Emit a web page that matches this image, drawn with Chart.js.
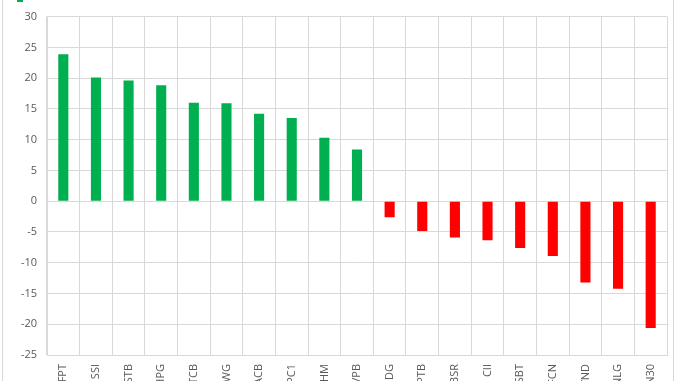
<!DOCTYPE html>
<html>
<head>
<meta charset="utf-8">
<script src="https://cdn.jsdelivr.net/npm/chart.js@4"></script>
<style>
  html, body { margin: 0; padding: 0; background: #fff; overflow: hidden; }
  #wrap { width: 678px; height: 398px; position: relative; }
</style>
</head>
<body>
<div id="wrap"><canvas id="chart"></canvas></div>
<script>
const tickers = ['FPT', 'SSI', 'STB', 'HPG', 'TCB', 'MWG', 'ACB', 'PC1', 'VHM', 'VPB',
                 'HDG', 'PTB', 'BSR', 'CII', 'SBT', 'FCN', 'VND', 'NLG', 'VN30'];
const changes = [23.9, 20.1, 19.6, 18.85, 16.0, 15.9, 14.2, 13.5, 10.3, 8.4,
                 -2.6, -4.85, -5.9, -6.35, -7.6, -8.9, -13.2, -14.25, -20.6];
const yTicks = [30, 25, 20, 15, 10, 5, 0, -5, -10, -15, -20, -25];

const upColor = '#00b050';
const downColor = '#ff0000';
const gridColor = '#d9d9d9';
const textColor = '#595959';

// outer chart frame and the clipped legend swatch at the top
const framePlugin = {
    id: 'frame',
    beforeDraw(chart) {
        const ctx = chart.ctx;
        ctx.save();
        ctx.strokeStyle = gridColor;
        ctx.lineWidth = 1;
        ctx.strokeRect(2.5, -10, 671, chart.height + 20);
        ctx.fillStyle = upColor;
        ctx.fillRect(17, -4, 6, 6);
        ctx.restore();
    }
};

new Chart(document.getElementById('chart'), {
    type: 'bar',
    data: {
        labels: tickers,
        datasets: [{
            label: 'Change',
            data: changes,
            backgroundColor: changes.map(v => v >= 0 ? upColor : downColor),
            barPercentage: 0.31,
            categoryPercentage: 1.0
        }]
    },
    options: {
        responsive: true,
        maintainAspectRatio: false,
        animation: false,
        layout: { padding: { top: 16, right: 11, left: 0, bottom: 0 } },
        plugins: {
            legend: { display: false },
            tooltip: { enabled: false }
        },
        scales: {
            x: {
                grid: { color: gridColor, drawTicks: false, offset: true },
                border: { color: gridColor },
                ticks: {
                    color: textColor,
                    font: { family: 'Open Sans', size: 11 },
                    minRotation: 90,
                    maxRotation: 90,
                    autoSkip: false,
                    padding: 9
                },
                afterFit(scale) { scale.height = 43; }
            },
            y: {
                min: -25,
                max: 30,
                afterBuildTicks(scale) { scale.ticks = yTicks.map(v => ({ value: v })); },
                grid: { color: gridColor, drawTicks: false },
                border: { color: gridColor },
                ticks: {
                    color: textColor,
                    font: { family: 'Open Sans', size: 11 },
                    padding: 10
                },
                afterFit(scale) { scale.width = 47; }
            }
        }
    },
    plugins: [framePlugin]
});
</script>
</body>
</html>
